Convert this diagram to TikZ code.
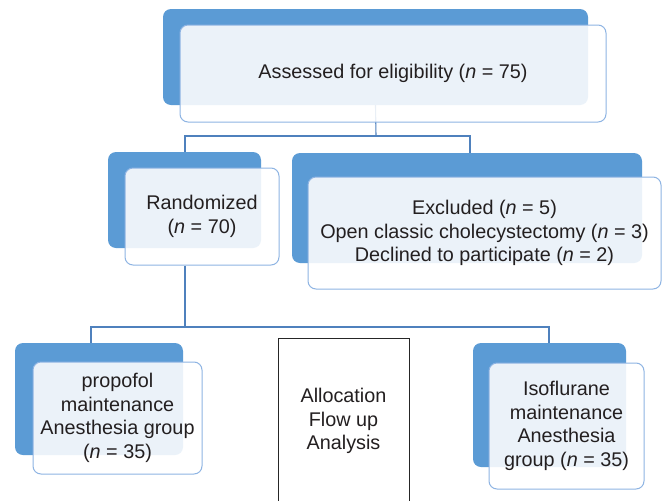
\documentclass[tikz,border=0pt]{standalone}
\usepackage{fontspec}
\setmainfont{Liberation Sans}
\definecolor{backblue}{HTML}{5B9BD5}
\definecolor{edgeblue}{HTML}{8EB4E3}
\definecolor{connblue}{HTML}{4F81BD}
\definecolor{txt}{HTML}{231F20}
\begin{document}
\begin{tikzpicture}[x=1pt,y=-1pt,
  back/.style={fill=backblue, draw=none, rounded corners=8pt, inner sep=0pt},
  front/.style={fill=white, fill opacity=0.88, text opacity=1, draw=edgeblue, line width=1pt,
    rounded corners=8pt, align=center, text=txt, font=\fontsize{19.8}{23.5}\selectfont, inner sep=0pt},
  conn/.style={draw=connblue, line width=1.1pt},
  plainbox/.style={draw=black!85, line width=1pt, fill=white, align=center, text=txt,
    font=\fontsize{19.8}{23.5}\selectfont, inner sep=0pt}]
\useasboundingbox[fill=white] (0,0) rectangle (662,501);
% back boxes
\node[back, minimum width=425pt, minimum height=96pt] (topback) at (375.5,57) {};
\node[back, minimum width=153pt, minimum height=96pt] (randback) at (184.5,200) {};
\node[back, minimum width=350pt, minimum height=110pt] (exclback) at (467,208) {};
\node[back, minimum width=168pt, minimum height=112pt] (propback) at (99,399) {};
\node[back, minimum width=153pt, minimum height=124pt] (isoback) at (549.5,405) {};
% connectors
\coordinate (j1) at (376,136);
\coordinate (j1l) at (185,136);
\coordinate (j1r) at (470,136);
\coordinate (j2) at (185,327);
\coordinate (j2l) at (91,327);
\coordinate (j2r) at (549,327);
\draw[conn] (topback.south) -- (j1);
\draw[conn] (j1l |- randback.north) -- (j1l) -- (j1r) -- (j1r |- exclback.north);
\draw[conn] (j2l |- propback.north) -- (j2l) -- (j2r) -- (j2r |- isoback.north);
% front boxes
\node[front, minimum width=426pt, minimum height=97pt] (topfront) at (393,73.5)
  {Assessed for eligibility (\textit{n} = 75)};
\node[front, minimum width=154pt, minimum height=97pt] (randfront) at (202,216.5)
  {Randomized\\(\textit{n} = 70)};
\node[front, minimum width=353pt, minimum height=112pt] (exclfront) at (484.5,233)
  {Excluded (\textit{n} = 5)\\Open classic cholecystectomy (\textit{n} = 3)\\Declined to participate (\textit{n} = 2)};
\node[front, minimum width=169pt, minimum height=112pt] (propfront) at (117.5,418)
  {propofol\\maintenance\\Anesthesia group\\(\textit{n} = 35)};
\node[front, minimum width=155pt, minimum height=126pt] (isofront) at (566.5,426)
  {Isoflurane\\maintenance\\Anesthesia\\group (\textit{n} = 35)};
\node[plainbox, minimum width=131pt, minimum height=166pt] (alloc) at (343.5,421)
  {Allocation\\Flow up\\Analysis};
\draw[conn] (j2 |- randfront.south) -- (j2);
\end{tikzpicture}
\end{document}
